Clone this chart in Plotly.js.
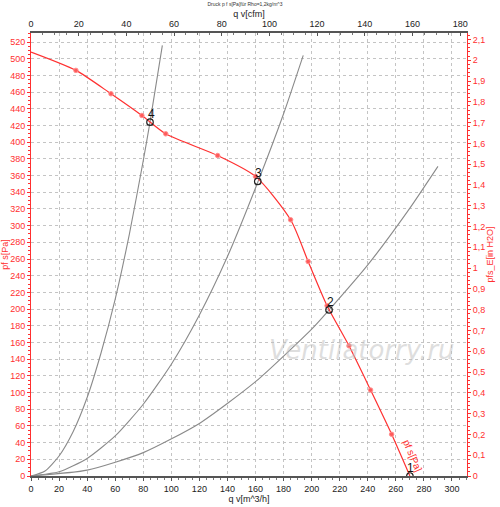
<!DOCTYPE html>
<html><head><meta charset="utf-8">
<script src="https://cdn.plot.ly/plotly-3.0.1.min.js"></script>
<style>html,body{margin:0;padding:0;background:#fff}#c{width:500px;height:507px}</style>
</head><body><div id="c"></div>
<script>
// Fan curve (q v [m^3/h], p f s [Pa])
const fanQ = [0, 32, 57, 79, 96, 133, 160, 185, 197.5, 211, 226.6, 242, 257, 270];
const fanP = [508, 486, 458, 432, 410, 384, 359, 307, 257, 204, 156, 103, 50, 0];
// System curves
const sys4Q = [0, 10, 20, 30, 40, 50, 60, 70, 80, 84.8, 93.6];
const sys4P = [0, 6, 24, 53, 94, 148, 212, 289, 378, 424, 516];
const sys3Q = [0, 20, 40, 60, 80, 100, 120, 140, 161.6, 180, 194];
const sys3P = [0, 5, 21, 48, 86, 134, 193, 263, 352, 434, 504];
const sys2Q = [0, 40, 80, 120, 160, 200, 212.4, 240, 270, 290];
const sys2P = [0, 7, 28, 63, 113, 176, 199, 253, 321, 371];
// Operating points
const opLabels = ['4', '3', '2', '1'];
const opQ = [84.8, 161.6, 212.4, 270];
const opP = [424, 353, 199, 0];
// Axes
const qMax = 310.7;
const pMax = 530.8;
const cfmPerM3h = 1 / 1.699;
const pascalPerInH2O = 249.09;

const font = 'Liberation Sans, Arial, sans-serif';
const red = '#ff3030';
const gray = '#8a8a8a';

const traces = [
  {x: sys4Q, y: sys4P, mode: 'lines', line: {color: gray, width: 1.1, shape: 'spline', smoothing: 0.6}, hoverinfo: 'skip'},
  {x: sys3Q, y: sys3P, mode: 'lines', line: {color: gray, width: 1.1, shape: 'spline', smoothing: 0.6}, hoverinfo: 'skip'},
  {x: sys2Q, y: sys2P, mode: 'lines', line: {color: gray, width: 1.1, shape: 'spline', smoothing: 0.6}, hoverinfo: 'skip'},
  {x: fanQ, y: fanP, mode: 'lines', line: {color: red, width: 1.2, shape: 'spline', smoothing: 0.7}},
  {x: fanQ.slice(1, -1), y: fanP.slice(1, -1), mode: 'markers', marker: {color: '#ff5a5a', size: 4.5, line: {color: '#ff9090', width: 1}}},
  {x: opQ, y: opP, mode: 'markers', marker: {symbol: 'circle-open', color: '#222', size: 6.5, line: {width: 1.2}}},
  {x: [], y: [], xaxis: 'x2', yaxis: 'y2', mode: 'markers'}
];

const annotations = [{
  xref: 'paper', yref: 'paper', x: 0.759, y: 0.285, xanchor: 'center', yanchor: 'middle',
  text: '<i>Ventilatorry.ru</i>', showarrow: false,
  font: {family: 'DejaVu Sans, sans-serif', size: 26, color: 'rgba(190,190,190,0.5)'}
}];
opLabels.forEach((t, i) => annotations.push({
  x: opQ[i], y: opP[i], text: t, showarrow: false, xanchor: 'center', yanchor: 'bottom', yshift: -1, xshift: 1,
  font: {family: font, size: 12, color: '#111'}
}));
annotations.push({
  x: 271.6, y: 24, text: 'pf s[Pa]', showarrow: false, textangle: 67,
  font: {family: font, size: 10, color: red}
});

const layout = {
  width: 500, height: 507,
  margin: {l: 31, r: 33, t: 33, b: 31, pad: 0},
  paper_bgcolor: '#fff', plot_bgcolor: '#fff',
  showlegend: false,
  separators: ', ',
  font: {family: font, size: 9, color: '#222'},
  title: {text: 'Druck p f s[Pa]für Rho=1,2kg/m^3', font: {family: font, size: 5, color: '#333'}, x: 0.49, xanchor: 'center', y: 0.991, yanchor: 'middle'},
  xaxis: {
    range: [0, qMax], dtick: 20, tick0: 0, showgrid: true, gridcolor: '#c4c4c4', griddash: 'dot', gridwidth: 1,
    zeroline: false, showline: true, linecolor: '#555', linewidth: 2,
    ticks: 'outside', ticklen: 3, tickcolor: '#555',
    minor: {dtick: 5, ticklen: 2, tickcolor: '#777', showgrid: false},
    tickfont: {family: font, size: 9, color: '#222'},
    title: {text: 'q v[m^3/h]', font: {family: font, size: 9, color: '#222'}, standoff: 1}
  },
  xaxis2: {
    overlaying: 'x', side: 'top', range: [0, qMax * cfmPerM3h], dtick: 20, tick0: 0,
    showgrid: false, zeroline: false, showline: true, linecolor: '#555', linewidth: 2,
    ticks: 'inside', ticklen: 3, tickcolor: '#555',
    minor: {dtick: 5, ticklen: 2, tickcolor: '#777', ticks: 'inside'},
    tickfont: {family: font, size: 9, color: '#222'},
    title: {text: 'q v[cfm]', font: {family: font, size: 9, color: '#222'}, standoff: 0}
  },
  yaxis: {
    range: [0, pMax], dtick: 20, tick0: 0, showgrid: true, gridcolor: '#c4c4c4', griddash: 'dot', gridwidth: 1,
    zeroline: false, showline: true, linecolor: red, linewidth: 1,
    ticks: 'outside', ticklen: 3, tickcolor: red,
    minor: {dtick: 5, ticklen: 2, tickcolor: red, showgrid: false},
    tickfont: {family: font, size: 9, color: red},
    title: {text: 'pf s[Pa]', font: {family: font, size: 9, color: red}, standoff: 2}
  },
  yaxis2: {
    overlaying: 'y', side: 'right', range: [0, pMax / pascalPerInH2O], dtick: 0.1, tick0: 0,
    showgrid: false, zeroline: false, showline: true, linecolor: red, linewidth: 1,
    ticks: 'outside', ticklen: 3, tickcolor: red,
    minor: {dtick: 0.02, ticklen: 2, tickcolor: red},
    tickfont: {family: font, size: 9, color: red},
    title: {text: 'pfs_E[in H2O]', font: {family: font, size: 9, color: red}, standoff: 2}
  },
  annotations: annotations
};

Plotly.newPlot('c', traces, layout, {displayModeBar: false, staticPlot: true});
</script></body></html>
